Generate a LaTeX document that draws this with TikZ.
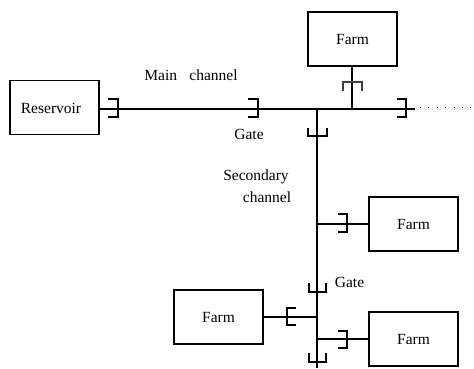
\documentclass[tikz,border=0pt]{standalone}
\usepackage{fontspec}
\setmainfont{Liberation Serif}
\tikzset{
  box/.style={draw, line width=1.3pt, minimum width=89pt, minimum height=54pt, inner sep=0pt},
  channel/.style={line width=1.3pt},
  gate/.style={line width=1.4pt},
  lbl/.style={inner sep=0pt}
}
\begin{document}
\begin{tikzpicture}[x=1pt, y=-1pt, font=\fontsize{15.5}{18}\selectfont]
  \useasboundingbox (0,0) rectangle (474,368);
  % boxes
  \node[box] (reservoir) at (54.5,107.5) {};
  \node[lbl] (reservoirtext) at (51,108) {Reservoir};
  \node[box] (farmtop) at (352.5,39) {Farm};
  \node[box] (farmright) at (413.5,224) {Farm};
  \node[box] (farmleft) at (218.5,317) {Farm};
  \node[box] (farmlow) at (413.5,339) {Farm};
  % junctions on the channels
  \coordinate (mainend) at (415,109);
  \coordinate (jtop) at (352,109);
  \coordinate (jsec) at (317,109);
  \coordinate (secend) at (317,368);
  \coordinate (jright) at (317,224);
  \coordinate (jleft) at (317,317);
  \coordinate (jlow) at (317,339);
  \coordinate (dotstart) at (420,107.5);
  \coordinate (dotend) at (472,107.5);
  % channels
  \draw[channel] (reservoir.east |- mainend) -- (mainend);
  \draw[channel] (jsec) -- (secend);
  \draw[channel] (jtop |- farmtop.south) -- (jtop);
  \draw[channel] (jright) -- (jright -| farmright.west);
  \draw[channel] (jleft) -- (jleft -| farmleft.east);
  \draw[channel] (jlow) -- (jlow -| farmlow.west);
  \draw[dash pattern=on 1pt off 7.4pt, line width=0.9pt] (dotstart) -- (dotend);
  % gates on the main channel
  \draw[gate] (108,99) -- (118,99) -- (118,117) -- (108,117);
  \draw[gate] (248,99) -- (258,99) -- (258,117) -- (248,117);
  \draw[gate] (397,99) -- (406,99) -- (406,117) -- (397,117);
  \draw[gate, black!75, line width=1.1pt] (343,91) -- (343,82) -- (362,82) -- (362,91);
  % gates on the secondary channel
  \draw[gate] (308,128) -- (308,136) -- (327,136) -- (327,128);
  \draw[gate] (309,283) -- (309,292) -- (326,292) -- (326,283);
  \draw[gate] (309,353) -- (309,362) -- (326,362) -- (326,353);
  \draw[gate] (338,214) -- (347,214) -- (347,232) -- (338,232);
  \draw[gate] (338,331) -- (347,331) -- (347,348) -- (338,348);
  \draw[gate] (296,308) -- (287,308) -- (287,325) -- (296,325);
  % labels
  \node[lbl] (mainlabel) at (191,75) {Main\hspace{0.8em}channel};
  \node[lbl] (gateone) at (249,134) {Gate};
  \node[lbl] (seclabel) at (256,177) {Secondary};
  \node[lbl] (seclabeltwo) at (267,197) {channel};
  \node[lbl] (gatetwo) at (349.5,282) {Gate};
\end{tikzpicture}
\end{document}
